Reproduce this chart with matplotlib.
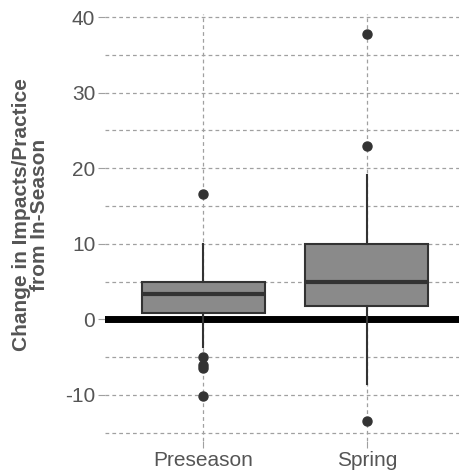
import numpy as np
import matplotlib.pyplot as plt
from matplotlib.ticker import MultipleLocator

# box statistics
groups = ['Preseason', 'Spring']
q1 = [0.9, 1.7]
medians = [3.3, 4.9]
q3 = [4.9, 10.0]
whisker_lo = [-3.7, -8.5]
whisker_hi = [10.0, 19.1]
outliers = [[16.6, -5.0, -6.1, -6.5, -10.1], [37.7, 23.0, -13.5]]

plt.rcParams['font.family'] = ['Liberation Sans', 'DejaVu Sans']
plt.rcParams['axes.unicode_minus'] = False

fig = plt.figure(figsize=(4.6, 4.74), dpi=100)
ax = fig.add_axes([105 / 460, 1 - 441 / 474, 360 / 460, 427 / 474])

stats = []
for i, g in enumerate(groups):
    stats.append({'label': g, 'q1': q1[i], 'med': medians[i], 'q3': q3[i],
                  'whislo': whisker_lo[i], 'whishi': whisker_hi[i],
                  'fliers': np.array(outliers[i])})

ax.axhline(0, color='black', lw=5, zorder=1)
ax.bxp(stats, positions=[1, 2], widths=0.75, patch_artist=True, showcaps=False,
       boxprops=dict(facecolor='#8a8a8a', edgecolor='#333333', lw=1.5),
       medianprops=dict(color='#333333', lw=3),
       whiskerprops=dict(color='#333333', lw=1.5),
       flierprops=dict(marker='o', markerfacecolor='#333333', markeredgecolor='#333333',
                       markersize=6.5),
       zorder=3)

ax.set_xlim(0.4, 2.6)
ax.set_ylim(-16.1, 40.4)
ax.yaxis.set_major_locator(MultipleLocator(10))
ax.yaxis.set_minor_locator(MultipleLocator(5))
ax.set_xticks([1, 2])
ax.set_xticklabels(groups)

ax.grid(True, which='both', axis='y', color='#a0a0a0', ls=(0, (3, 2.5)), lw=0.9, zorder=0)
ax.grid(True, which='major', axis='x', color='#a0a0a0', ls=(0, (3, 2.5)), lw=0.9, zorder=0)
ax.set_axisbelow(True)

for s in ax.spines.values():
    s.set_visible(False)

ax.tick_params(axis='both', which='major', length=5, width=0.8, color='#a0a0a0',
               labelsize=15, labelcolor='#555555', pad=2)
ax.tick_params(axis='y', which='minor', length=0)

ax.set_ylabel('Change in Impacts/Practice\nfrom In-Season', fontsize=15,
              fontweight='bold', color='#555555', linespacing=0.95, labelpad=10)
ax.yaxis.set_label_coords(-0.155, 0.53)

fig.savefig('out.png', dpi=100)
